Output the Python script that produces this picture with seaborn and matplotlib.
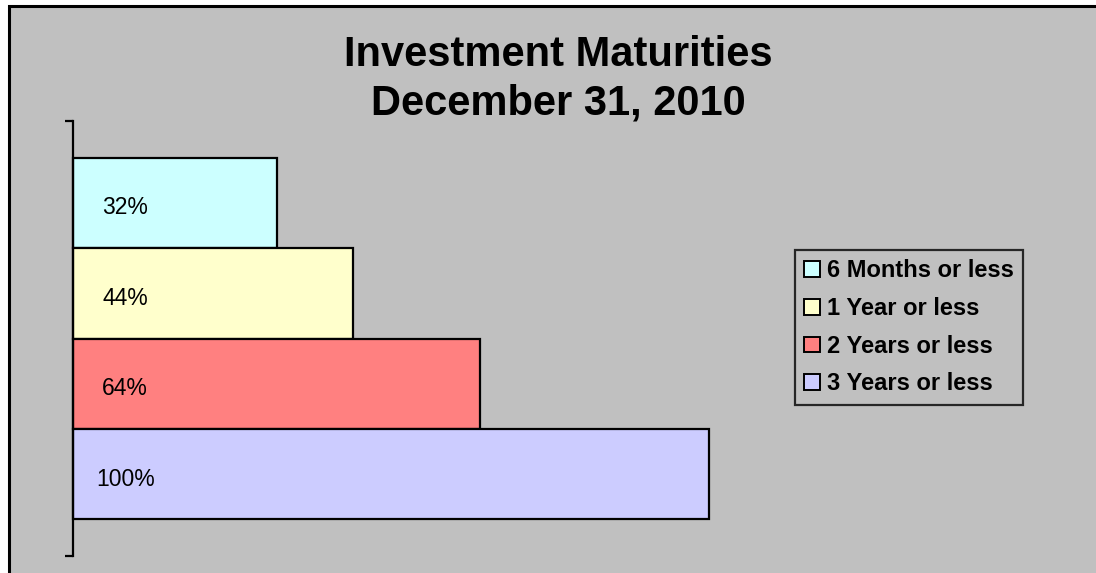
import matplotlib
matplotlib.use("Agg")
import matplotlib.pyplot as plt
import matplotlib.patches as mpatches
import pandas as pd
import seaborn as sns

SERIES = ['6 Months or less', '1 Year or less', '2 Years or less', '3 Years or less']
VALUES = [32, 44, 64, 100]
COLORS = ['#CCFFFF', '#FFFFCC', '#FF8080', '#CCCCFF']
TITLE = 'Investment Maturities\nDecember 31, 2010'

BG = '#C0C0C0'
W, H = 1096, 573

sns.set_style("white")
plt.rcParams['font.family'] = ['Liberation Sans', 'DejaVu Sans']
plt.rcParams['text.color'] = 'black'

df = pd.DataFrame({'Group': ['Maturity'] * len(SERIES),
                   'Series': SERIES,
                   'Value': VALUES})

fig = plt.figure(figsize=(W / 100, H / 100), dpi=100)
fig.patch.set_facecolor('white')

# gray chart area with black border (runs off the right/bottom edges)
fig.patches.append(mpatches.Rectangle(
    (9 / W, -0.05), 1.2, 1 - 6 / H + 0.05, transform=fig.transFigure,
    facecolor=BG, edgecolor='black', linewidth=2.2, zorder=-5))

ax = fig.add_axes([73 / W, 1 - 556 / H, (709 - 73) / W, (556 - 121) / H])
ax.set_facecolor('none')
ax.set_zorder(2)

sns.barplot(data=df, x='Value', y='Group', hue='Series', hue_order=SERIES,
            palette=COLORS, orient='h', width=0.832, saturation=1,
            edgecolor='black', linewidth=1.6, ax=ax)
for bar in ax.patches:
    bar.set_clip_on(False)

ax.set_xlim(0, 100)
ax.set_ylim(0.5, -0.5)
ax.set_yticks([-0.5, 0.5])
ax.set_yticklabels(['', ''])
ax.set_xticks([])
ax.set_xlabel('')
ax.set_ylabel('')
ax.tick_params(axis='y', direction='out', length=6, width=1.6, color='black', left=True)
for side in ['top', 'right', 'bottom']:
    ax.spines[side].set_visible(False)
ax.spines['left'].set_color('black')
ax.spines['left'].set_linewidth(1.6)

for bar, v in zip(ax.patches, VALUES):
    ax.text(8.2, bar.get_y() + bar.get_height() / 2 + 0.012, f'{v}%',
            ha='center', va='center', fontsize=16.5, color='black')

old = ax.get_legend()
handles = old.legend_handles
labels = [t.get_text() for t in old.get_texts()]
old.remove()
leg = fig.legend(handles, labels, loc='upper left',
                 bbox_to_anchor=(795 / W, 1 - 250 / H), bbox_transform=fig.transFigure,
                 borderaxespad=0, frameon=True, fancybox=False,
                 prop={'size': 17, 'weight': 'bold'},
                 handlelength=0.65, handleheight=0.65, handletextpad=0.3,
                 labelspacing=0.62, borderpad=0.4)
leg.set_zorder(3)
leg.get_frame().set_facecolor(BG)
leg.get_frame().set_edgecolor('black')
leg.get_frame().set_linewidth(1.6)
for h, c in zip(leg.legend_handles, COLORS):
    h.set_facecolor(c)
    h.set_edgecolor('black')
    h.set_linewidth(1.4)
for t in leg.get_texts():
    t.set_color('black')

fig.text(558 / W, 1 - 79 / H, TITLE, ha='center', va='center', color='black',
         fontsize=30, fontweight='bold', linespacing=1.28)

fig.savefig('out.png', dpi=100, facecolor=fig.get_facecolor())
